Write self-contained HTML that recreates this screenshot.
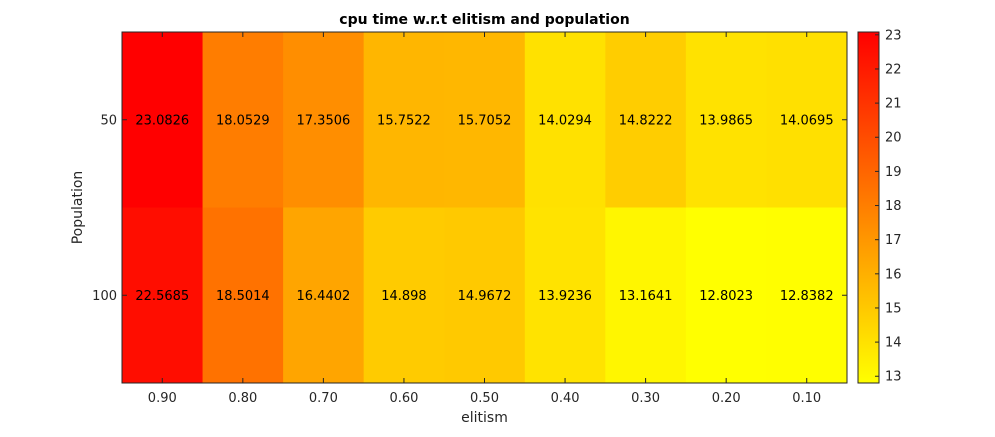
<!DOCTYPE html>
<html><head><meta charset="utf-8"><style>
body{margin:0;background:#fff;}
svg{font-family:"DejaVu Sans","Liberation Sans",sans-serif;}
</style></head><body>
<svg width="995" height="432" id="c"></svg>
<script>
const xLabels=["0.90","0.80","0.70","0.60","0.50","0.40","0.30","0.20","0.10"];
const yLabels=["50","100"];
const row50=[23.0826,18.0529,17.3506,15.7522,15.7052,14.0294,14.8222,13.9865,14.0695];
const row100=[22.5685,18.5014,16.4402,14.898,14.9672,13.9236,13.1641,12.8023,12.8382];
const cbTicks=[13,14,15,16,17,18,19,20,21,22,23];
const rows=[row50,row100];
const NS="http://www.w3.org/2000/svg";
const svg=document.getElementById('c');
function el(t,a,p){const e=document.createElementNS(NS,t);for(const k in a)e.setAttribute(k,a[k]);(p||svg).appendChild(e);return e;}
const L=122,R=847,T=32,B=383;
const all=row50.concat(row100);
const vmin=Math.min(...all),vmax=Math.max(...all);
const cw=(R-L)/xLabels.length,rh=(B-T)/yLabels.length;
function col(v){const t=(v-vmin)/(vmax-vmin);return `rgb(255,${Math.round(255*(1-t))},0)`;}
rows.forEach((r,i)=>r.forEach((v,j)=>{
 const c=el('rect',{x:L+j*cw,y:T+i*rh,width:cw+0.5,height:rh+0.5,fill:col(v)});
 
 
 const t=el('text',{x:L+(j+0.5)*cw,y:T+(i+0.5)*rh+4.5,'text-anchor':'middle','font-size':13,fill:'#000'});
 t.textContent=String(v);
 
 
}));
const fr=el('rect',{x:L,y:T,width:R-L,height:B-T,fill:'none',stroke:'#262626','stroke-width':1});


xLabels.forEach((s,j)=>{
 const x=L+(j+0.5)*cw;
 el('line',{x1:x,x2:x,y1:B,y2:B-5,stroke:'#262626'});
 el('line',{x1:x,x2:x,y1:T,y2:T+5,stroke:'#262626'});
 const t=el('text',{x:x,y:B+19,'text-anchor':'middle','font-size':13,fill:'#262626'});t.textContent=s;
 
 
});
yLabels.forEach((s,i)=>{
 const y=T+(i+0.5)*rh;
 el('line',{x1:L,x2:L+5,y1:y,y2:y,stroke:'#262626'});
 el('line',{x1:R,x2:R-5,y1:y,y2:y,stroke:'#262626'});
 const t=el('text',{x:L-5,y:y+4.5,'text-anchor':'end','font-size':13,fill:'#262626'});t.textContent=s;
 
 
});
const CL=858,CR=879;
const defs=el('defs',{});
const g=el('linearGradient',{id:'cg',x1:0,y1:0,x2:0,y2:1},defs);
el('stop',{offset:0,'stop-color':'rgb(255,0,0)'},g);
el('stop',{offset:1,'stop-color':'rgb(255,255,0)'},g);
const cb=el('rect',{x:CL,y:T,width:CR-CL,height:B-T,fill:'url(#cg)',stroke:'#262626'});


cbTicks.forEach(v=>{
 const y=B-(v-vmin)/(vmax-vmin)*(B-T);
 el('line',{x1:CR,x2:CR-4,y1:y,y2:y,stroke:'#262626'});
 const t=el('text',{x:CR+6,y:y+4.5,'font-size':13,fill:'#262626'});t.textContent=v;
 
 
});
const ti=el('text',{x:(L+R)/2,y:24,'text-anchor':'middle','font-size':14,'font-weight':'bold',fill:'#000'});
ti.textContent='cpu time w.r.t elitism and population';


const xt=el('text',{x:(L+R)/2,y:422,'text-anchor':'middle','font-size':14,fill:'#262626'});
xt.textContent='elitism';


const yt=el('text',{x:0,y:0,'text-anchor':'middle','font-size':14,fill:'#262626',transform:`translate(82,${(T+B)/2}) rotate(-90)`});
yt.textContent='Population';


</script>
</body></html>
